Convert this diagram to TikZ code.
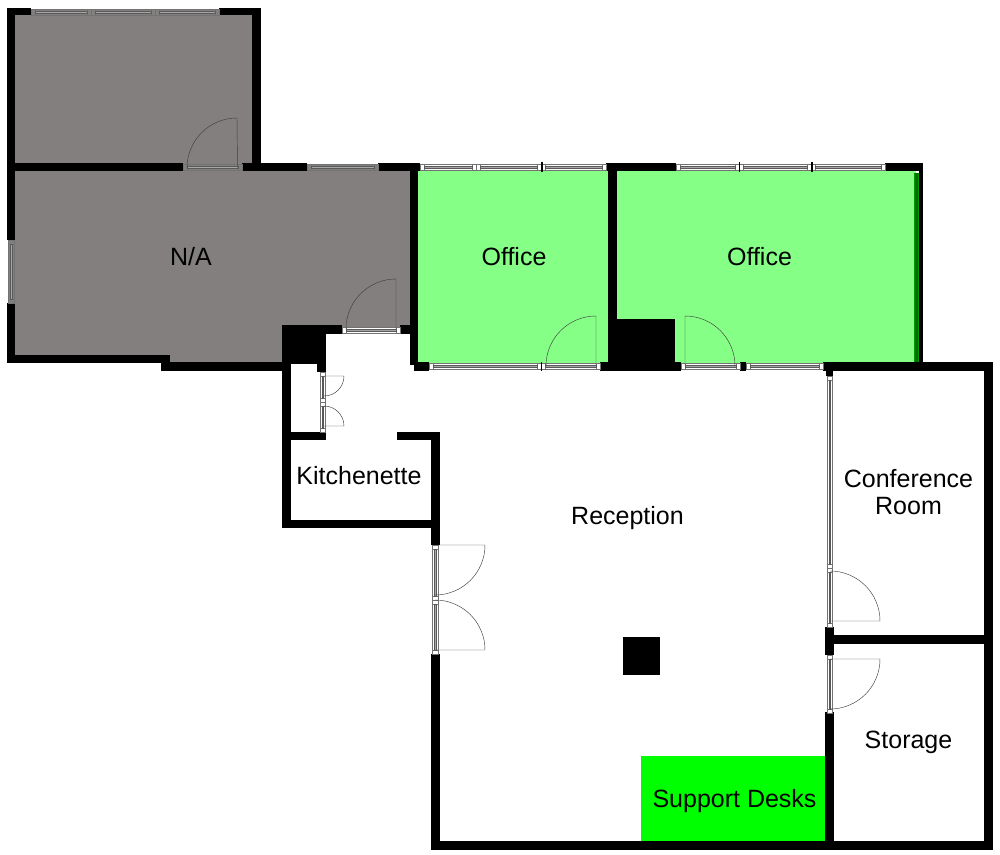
\documentclass[tikz,border=0pt]{standalone}
\usepackage{fontspec}
\setmainfont{Liberation Sans}
\definecolor{roomgray}{HTML}{827F7E}
\definecolor{officegreen}{HTML}{85FF85}
\definecolor{deskgreen}{HTML}{00FF00}
\definecolor{darkstrip}{HTML}{006E00}
\definecolor{midstrip}{HTML}{009A00}
\tikzset{
  wall/.style={fill=black},
  leaf/.style={draw=black!75,line width=0.45pt},
  frame/.style={draw=black!55,line width=0.5pt},
  band/.style={draw=black!65,line width=0.6pt,fill=black!35},
  label/.style={font=\fontsize{25}{26.5}\selectfont,text=black,align=center,inner sep=0pt}
}
% horizontal window segment: x1,x2,y1,y2,glass fill
\newcommand\winH[5]{%
  \draw[frame,fill=#5] (#1,#3) rectangle (#2,#4);
  \draw[frame] (#1+4,#3) -- (#1+4,#4) (#2-4,#3) -- (#2-4,#4);
  \draw[band] (#1+4,#3+2) rectangle (#2-4,#4-2);
}
% vertical window segment: y1,y2,x1,x2,glass fill
\newcommand\winV[5]{%
  \draw[frame,fill=#5] (#3,#1) rectangle (#4,#2);
  \draw[frame] (#3,#1+4) -- (#4,#1+4) (#3,#2-4) -- (#4,#2-4);
  \draw[band] (#3+2,#1+4) rectangle (#4-2,#2-4);
}
\begin{document}
\begin{tikzpicture}[x=1pt,y=-1pt]
\useasboundingbox (0,0) rectangle (1000,854);
\fill[white] (0,0) rectangle (1000,854);
% room fills
\fill[roomgray] (15,15) rectangle (252,165);
\fill[roomgray] (15,165) -- (410,165) -- (410,330) -- (282,330) -- (282,364) -- (170,364) -- (170,356) -- (15,356) -- cycle;
\fill[officegreen] (416,168) rectangle (610,364);
\fill[officegreen] (616,168) rectangle (916,364);
\fill[darkstrip] (915,173) rectangle (918,362);
\fill[midstrip] (914,173) rectangle (915,362);
\fill[midstrip] (918,173) rectangle (919,362);
\fill[deskgreen] (641,756) rectangle (826,842);
% walls
\fill[wall] (7,8) rectangle (31,15);
\fill[wall] (219,8) rectangle (261,15);
\fill[wall] (7,8) rectangle (15,240);
\fill[wall] (7,303) rectangle (15,363);
\fill[wall] (252,8) rectangle (261,171);
\fill[wall] (7,163) rectangle (183,171);
\fill[wall] (242,163) rectangle (307,171);
\fill[wall] (378,163) rectangle (420,171);
\fill[wall] (7,355) rectangle (170,363);
\fill[wall] (161,362) rectangle (283,371);
\fill[wall] (410,163) rectangle (418,365);
\fill[wall] (414,362) rectangle (429,371);
\fill[wall] (400,325) rectangle (410,334);
\fill[wall] (282,325) rectangle (342,334);
\fill[wall] (282,325) rectangle (326,364);
\fill[wall] (317,360) rectangle (326,372);
\fill[wall] (282,360) rectangle (291,528);
\fill[wall] (291,432) rectangle (326,440);
\fill[wall] (397,432) rectangle (440,440);
\fill[wall] (431,432) rectangle (440,545);
\fill[wall] (282,520) rectangle (440,528);
\fill[wall] (431,654) rectangle (440,850);
\fill[wall] (431,841) rectangle (993,850);
\fill[wall] (606,163) rectangle (676,171);
\fill[wall] (608,163) rectangle (617,330);
\fill[wall] (608,319) rectangle (675,365);
\fill[wall] (600,362) rectangle (681,371);
\fill[wall] (885,163) rectangle (923,171);
\fill[wall] (919,163) rectangle (923,365);
\fill[wall] (740,362) rectangle (746,371);
\fill[wall] (823,362) rectangle (993,371);
\fill[wall] (984,362) rectangle (993,850);
\fill[wall] (826,371) rectangle (833,376);
\fill[wall] (825,627) rectangle (834,655);
\fill[wall] (834,635) rectangle (984,644);
\fill[wall] (825,712) rectangle (834,842);
\fill[wall] (815,841) rectangle (834,850);
% windows
\winH{31}{91}{9}{15}{roomgray}
\winH{91}{155}{9}{15}{roomgray}
\winH{155}{219}{9}{15}{roomgray}
\winH{183}{242}{164}{170}{roomgray}
\winH{307}{378}{164}{170}{roomgray}
\winV{240}{303}{8}{14}{roomgray}
\winH{342}{400}{327}{333}{white}
\winH{420}{476}{164}{170}{white}
\winH{476}{541}{164}{170}{white}
\winH{541}{606}{164}{170}{white}
\winH{676}{739}{164}{170}{white}
\winH{739}{811}{164}{170}{white}
\winH{811}{885}{164}{170}{white}
\winH{429}{541}{363}{369}{white}
\winH{541}{600}{363}{369}{white}
\winH{681}{740}{363}{369}{white}
\winH{746}{823}{363}{369}{white}
\winV{372}{402}{320}{325}{white}
\winV{402}{432}{320}{325}{white}
\winV{376}{568}{827}{832}{white}
\winV{568}{627}{827}{832}{white}
\winV{655}{713}{827}{832}{white}
\winV{545}{600}{432}{438}{white}
\winV{600}{654}{432}{438}{white}
% mullion posts
\fill[wall] (541,162) rectangle (543,172);
\fill[wall] (738.5,162) rectangle (740,172);
\fill[wall] (811,162) rectangle (812.5,172);
\fill[wall] (541,362) rectangle (542,371);
% door leaves
\draw[leaf] (187,168) arc[start angle=180,end angle=90,radius=50pt] -- (237.5,168);
\draw[leaf] (346,329) arc[start angle=180,end angle=90,radius=50pt] -- (396,329);
\draw[leaf] (546,366) arc[start angle=180,end angle=90,radius=50pt] -- (596,366);
\draw[leaf] (685,366) -- (685,316) arc[start angle=90,end angle=0,radius=50pt];
\draw[leaf] (324,376) -- (344,376) arc[start angle=0,end angle=-90,radius=20pt];
\draw[leaf] (324,426) -- (344,426) arc[start angle=0,end angle=90,radius=20pt];
\draw[leaf] (437,545) -- (485,545) arc[start angle=0,end angle=-90,radius=50pt];
\draw[leaf] (437,650) -- (485,650) arc[start angle=0,end angle=90,radius=50pt];
\draw[leaf] (830,621) -- (880,621) arc[start angle=0,end angle=90,radius=50pt];
\draw[leaf] (830,659) -- (880,659) arc[start angle=0,end angle=-90,radius=50pt];
% column
\fill[wall] (623,637) rectangle (660,675);
% labels
\node[label] (na) at (191,257) {N/A};
\node[label] (office1) at (514,257) {Office};
\node[label] (office2) at (759.5,257) {Office};
\node[label] (kitchen) at (359,476) {Kitchenette};
\node[label] (reception) at (627.5,518) {Reception};
\node[label] (conference) at (908.5,492) {Conference\\Room};
\node[label] (storage) at (908.5,742) {Storage};
\node[label] (desks) at (734.5,801) {Support Desks};
\end{tikzpicture}
\end{document}
